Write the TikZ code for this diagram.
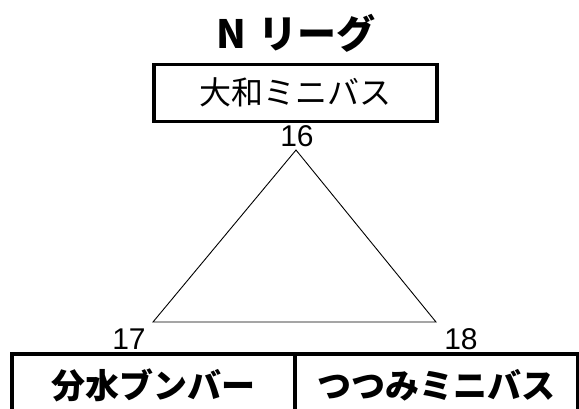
\documentclass[tikz,border=0pt]{standalone}
\usepackage{fontspec}
\setmainfont{Noto Sans CJK JP}
\newfontfamily\numfont{Liberation Sans}
\usetikzlibrary{positioning}

\tikzset{
  teambox/.style={draw, line width=3.5pt, minimum width=283pt, minimum height=57pt,
    inner sep=0pt, outer sep=0pt, font=\fontsize{32}{36}\selectfont},
  bottombox/.style={teambox, minimum height=62pt, font=\bfseries\fontsize{34}{38}\selectfont},
  numlabel/.style={inner sep=0pt, font=\numfont\fontsize{30}{34}\selectfont},
}

\begin{document}
\begin{tikzpicture}[x=1pt, y=-1pt]
\useasboundingbox (0,0) rectangle (579,408);

% League title
\node[font=\bfseries\fontsize{39}{44}\selectfont] (title) at (296,33) {N\,\,リーグ};

% Top team
\node[teambox] (yamato) at (295.5,92.75) {大和ミニバス};

% Match triangle
\coordinate (v16) at (296,150);
\coordinate (v17) at (153,322);
\coordinate (v18) at (436,322);
\draw[line width=0.9pt] (v16) -- (v17) -- (v18) -- cycle;

\node[numlabel] (n16) at (297,136) {16};
\node[numlabel] (n17) at (129,339) {17};
\node[numlabel] (n18) at (461,339) {18};

% Bottom teams
\node[bottombox] (bunsui) at (153.5,385) {分水ブンバー};
\node[bottombox] (tsutsumi) at (436.5,385) {つつみミニバス};

\end{tikzpicture}
\end{document}
